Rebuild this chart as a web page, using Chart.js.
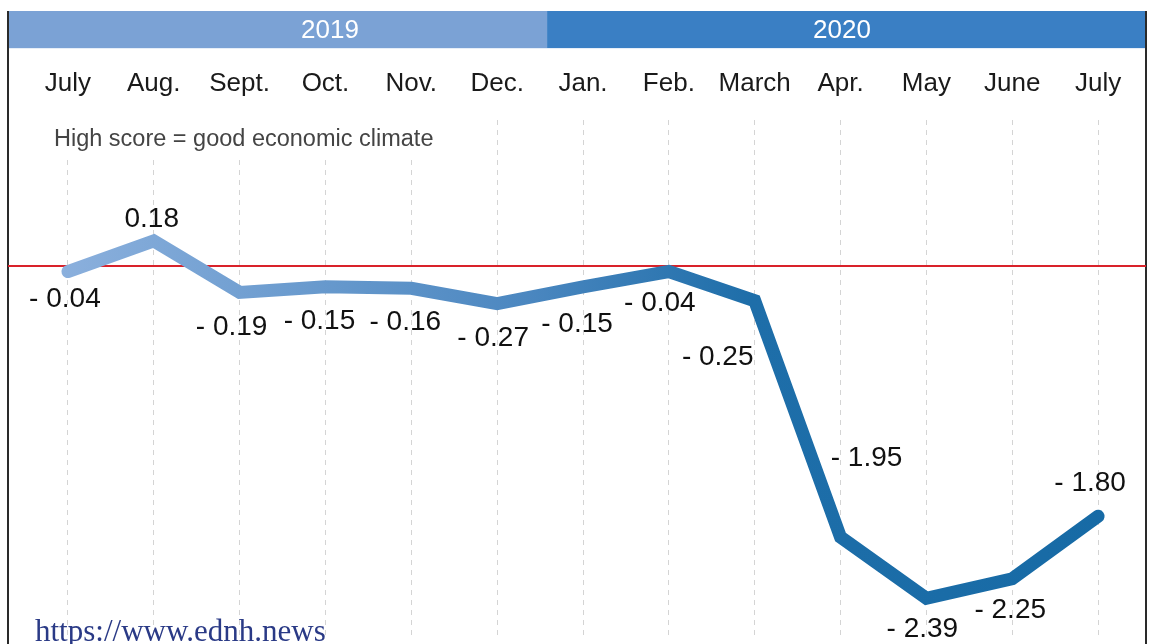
<!DOCTYPE html>
<html>
<head>
  <meta charset="utf-8" />
  <title>Economic climate</title>
  <style>
    html, body { margin: 0; padding: 0; background: #fff; }
    #wrap { width: 1152px; height: 644px; position: relative; }
  </style>
</head>
<body>
  <div id="wrap"><canvas id="stage"></canvas></div>

  <script src="https://cdn.jsdelivr.net/npm/chart.js@4/dist/chart.umd.min.js"></script>
  <script>
    // データ
    const months = ['July', 'Aug.', 'Sept.', 'Oct.', 'Nov.', 'Dec.', 'Jan.', 'Feb.', 'March', 'Apr.', 'May', 'June', 'July'];
    const scores = [-0.04, 0.18, -0.19, -0.15, -0.16, -0.27, -0.15, -0.04, -0.25, -1.95, -2.39, -2.25, -1.80];
    const years = ['2019', '2020'];

    // ラベルの位置 (点からのずれ)
    const labelShift = [
      [-3, 28], [-2, -22], [-8, 35], [-6, 34], [-6, 34], [-4, 35], [-6, 37],
      [-9, 32], [-37, 57], [26, -79], [-4, 31], [-2, 31], [-8, -33]
    ];

    const SANS = '"Liberation Sans", Arial, Helvetica, sans-serif';
    const FRAME_L = 8, FRAME_R = 1146;

    function fmt(v) {
      return v < 0 ? '- ' + Math.abs(v).toFixed(2) : v.toFixed(2);
    }

    // 背景・年の帯・枠線
    const framePlugin = {
      id: 'frame',
      beforeDraw(chart) {
        const c = chart.ctx;
        const x = chart.scales.x;
        c.save();
        c.fillStyle = '#fff';
        c.fillRect(0, 0, chart.width, chart.height);
        const split = (x.getPixelForValue(5) + x.getPixelForValue(6)) / 2 + 7;
        c.fillStyle = '#7ba2d5';
        c.fillRect(FRAME_L, 11, split - FRAME_L, 37);
        c.fillStyle = '#3a7fc4';
        c.fillRect(split, 11, FRAME_R - split, 37);
        c.fillStyle = '#e6eef8';
        c.fillRect(FRAME_L, 48, FRAME_R - FRAME_L, 1);
        c.fillStyle = '#fff';
        c.font = '26px ' + SANS;
        c.textAlign = 'center';
        c.textBaseline = 'middle';
        c.fillText(years[0], 330, 31);
        c.fillText(years[1], 842, 31);
        c.strokeStyle = '#2a2a2a';
        c.lineWidth = 2;
        c.beginPath();
        c.moveTo(FRAME_L, 11); c.lineTo(FRAME_L, chart.height);
        c.moveTo(FRAME_R, 11); c.lineTo(FRAME_R, chart.height);
        c.stroke();
        c.restore();
      },
      beforeDatasetsDraw(chart) {
        const c = chart.ctx;
        const y0 = chart.scales.y.getPixelForValue(0);
        c.save();
        // 説明文 (白地で点線を隠す)
        c.font = '23.5px ' + SANS;
        const note = 'High score = good economic climate';
        const w = c.measureText(note).width;
        c.fillStyle = '#fff';
        c.fillRect(48, 118, w + 14, 42);
        c.fillStyle = '#444';
        c.textAlign = 'left';
        c.textBaseline = 'middle';
        c.fillText(note, 54, 140);
        // ゼロ線
        c.strokeStyle = '#d9222a';
        c.lineWidth = 2;
        c.beginPath();
        c.moveTo(FRAME_L, y0);
        c.lineTo(FRAME_R, y0);
        c.stroke();
        c.restore();
      },
      afterDatasetsDraw(chart) {
        const c = chart.ctx;
        const meta = chart.getDatasetMeta(0);
        c.save();
        c.font = '28px ' + SANS;
        c.fillStyle = '#111';
        c.textAlign = 'center';
        c.textBaseline = 'middle';
        meta.data.forEach((pt, i) => {
          const s = labelShift[i];
          c.fillText(fmt(scores[i]), pt.x + s[0], pt.y + s[1]);
        });
        // 透かし
        c.font = '31px "Liberation Serif", "Times New Roman", serif';
        c.fillStyle = '#2a3a86';
        c.textAlign = 'left';
        c.textBaseline = 'alphabetic';
        c.fillText('https://www.ednh.news', 35, 641);
        c.restore();
      }
    };

    function lineGradient(ctx) {
      const chart = ctx.chart;
      const area = chart.chartArea;
      if (!area) return '#3a7fc4';
      const g = chart.ctx.createLinearGradient(area.left, 0, area.right, 0);
      g.addColorStop(0, '#90b3df');
      g.addColorStop(0.45, '#4b87c0');
      g.addColorStop(0.65, '#1e6ea9');
      g.addColorStop(1, '#166aa5');
      return g;
    }

    new Chart(document.getElementById('stage'), {
      type: 'line',
      data: {
        labels: months,
        datasets: [{
          data: scores,
          borderColor: lineGradient,
          borderWidth: 13,
          borderCapStyle: 'round',
          borderJoinStyle: 'miter',
          pointRadius: 0,
          tension: 0
        }]
      },
      options: {
        responsive: true,
        maintainAspectRatio: false,
        animation: false,
        layout: { padding: { top: 48, left: 25, right: 11, bottom: 4 } },
        plugins: { legend: { display: false }, tooltip: { enabled: false } },
        scales: {
          x: {
            position: 'top',
            offset: true,
            afterFit(s) { s.height = 72; },
            grid: {
              offset: false,
              drawTicks: false,
              color: '#d4d4d4',
              lineWidth: 1
            },
            border: { display: false, dash: [5, 5] },
            ticks: {
              color: '#1a1a1a',
              font: { family: SANS, size: 26 },
              padding: 21,
              maxRotation: 0,
              autoSkip: false
            }
          },
          y: {
            display: false,
            min: -2.69,
            max: 1.05
          }
        }
      },
      plugins: [framePlugin]
    });
  </script>
</body>
</html>
